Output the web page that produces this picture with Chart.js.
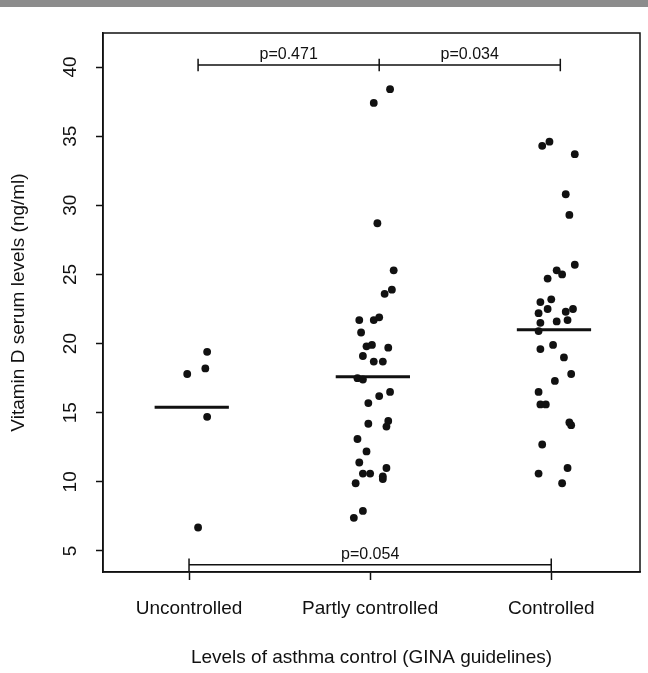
<!DOCTYPE html>
<html>
<head>
<meta charset="utf-8">
<script src="https://cdn.jsdelivr.net/npm/chart.js@4.4.1/dist/chart.umd.min.js"></script>
<style>
  html, body { margin: 0; padding: 0; background: #fff; }
</style>
</head>
<body>
<canvas id="c" width="648" height="673"></canvas>
<script>
// categories and axis ticks
var groups = ['Uncontrolled', 'Partly controlled', 'Controlled'];
var yTicks = [5, 10, 15, 20, 25, 30, 35, 40];

// jittered x positions (1 = Uncontrolled, 2 = Partly, 3 = Controlled) and values, ng/ml
var uncX = [1.10, 1.09, 0.99, 1.10, 1.05];
var uncY = [19.4, 18.2, 17.8, 14.7, 6.7];

var partX = [2.11, 2.02, 2.04, 2.13, 2.12, 2.08, 1.94, 2.02, 2.05, 1.95, 1.98, 2.01,
             2.10, 1.96, 2.02, 2.07, 1.93, 1.96, 2.11, 2.05, 1.99, 1.99, 2.10, 2.09,
             1.93, 1.98, 1.94, 1.96, 2.00, 2.09, 2.07, 2.07, 1.92, 1.91, 1.96];
var partY = [38.4, 37.4, 28.7, 25.3, 23.9, 23.6, 21.7, 21.7, 21.9, 20.8, 19.8, 19.9,
             19.7, 19.1, 18.7, 18.7, 17.5, 17.4, 16.5, 16.2, 15.7, 14.2, 14.4, 14.0,
             13.1, 12.2, 11.4, 10.6, 10.6, 11.0, 10.2, 10.4, 9.9, 7.4, 7.9];

var ctrlX = [2.95, 2.99, 3.13, 3.08, 3.10, 3.13, 3.03, 3.06, 2.98, 2.94, 3.00, 2.93,
             2.98, 3.08, 3.12, 2.94, 3.03, 3.09, 2.93, 2.94, 3.01, 3.07, 3.11, 3.02,
             2.93, 2.94, 2.97, 3.10, 3.11, 2.95, 3.09, 2.93, 3.06];
var ctrlY = [34.3, 34.6, 33.7, 30.8, 29.3, 25.7, 25.3, 25.0, 24.7, 23.0, 23.2, 22.2,
             22.5, 22.3, 22.5, 21.5, 21.6, 21.7, 20.9, 19.6, 19.9, 19.0, 17.8, 17.3,
             16.5, 15.6, 15.6, 14.3, 14.1, 12.7, 11.0, 10.6, 9.9];

var medians = [15.4, 17.6, 21.0];

// pairwise comparisons
var pLabels = ['p=0.471', 'p=0.034', 'p=0.054'];

function toPoints(xs, ys) {
  return xs.map(function (x, i) { return { x: x, y: ys[i] }; });
}

var allX = uncX.concat(partX, ctrlX);
var allY = uncY.concat(partY, ctrlY);

var medianPts = [];
medians.forEach(function (m, i) {
  medianPts.push({ x: i + 1 - 0.19, y: m }, { x: i + 1 + 0.22, y: m }, { x: i + 1, y: null });
});

var topY = 40.15, botY = 4.0, tk = 0.45;
var topBracket = [
  { x: 1.05, y: topY - tk }, { x: 1.05, y: topY + tk }, { x: 1.05, y: null },
  { x: 1.05, y: topY }, { x: 3.05, y: topY }, { x: 3.05, y: null },
  { x: 2.05, y: topY - tk }, { x: 2.05, y: topY + tk }, { x: 2.05, y: null },
  { x: 3.05, y: topY - tk }, { x: 3.05, y: topY + tk }
];
var botBracket = [
  { x: 1, y: botY - tk }, { x: 1, y: botY + tk }, { x: 1, y: null },
  { x: 1, y: botY }, { x: 3, y: botY }, { x: 3, y: null },
  { x: 3, y: botY - tk }, { x: 3, y: botY + tk }
];
var pPos = [[1.55, topY], [2.55, topY], [2.0, botY]];

var ink = '#111';
var font = "'Liberation Sans', Arial, sans-serif";

var frame = {
  id: 'frame',
  beforeDraw: function (chart) {
    var c = chart.ctx;
    c.save();
    c.fillStyle = '#8c8c8c';
    c.fillRect(0, 0, chart.width, 7);
    c.restore();
  },
  afterDraw: function (chart) {
    var c = chart.ctx, a = chart.chartArea;
    var sx = chart.scales.x, sy = chart.scales.y;
    c.save();
    c.strokeStyle = ink;
    c.lineWidth = 1.5;
    c.strokeRect(a.left, a.top, a.right - a.left, a.bottom - a.top);
    c.fillStyle = ink;
    c.font = '16px ' + font;
    c.textAlign = 'center';
    c.textBaseline = 'bottom';
    pLabels.forEach(function (t, i) {
      c.fillText(t, sx.getPixelForValue(pPos[i][0]), sy.getPixelForValue(pPos[i][1]) - 2);
    });
    c.restore();
  }
};

new Chart(document.getElementById('c'), {
  type: 'scatter',
  data: {
    datasets: [
      {
        data: toPoints(allX, allY),
        backgroundColor: ink,
        borderColor: ink,
        pointRadius: 3.9,
        pointBorderWidth: 0
      },
      {
        type: 'line',
        data: medianPts,
        borderColor: ink,
        borderWidth: 3,
        pointRadius: 0,
        spanGaps: false
      },
      {
        type: 'line',
        data: topBracket,
        borderColor: ink,
        borderWidth: 1.5,
        pointRadius: 0,
        spanGaps: false
      },
      {
        type: 'line',
        data: botBracket,
        borderColor: ink,
        borderWidth: 1.5,
        pointRadius: 0,
        spanGaps: false
      }
    ]
  },
  options: {
    responsive: false,
    animation: false,
    events: [],
    layout: { padding: { left: 0, top: 33, right: 8, bottom: 0 } },
    plugins: { legend: { display: false }, tooltip: { enabled: false } },
    scales: {
      x: {
        type: 'linear',
        min: 0.525,
        max: 3.49,
        afterBuildTicks: function (s) { s.ticks = [1, 2, 3].map(function (v) { return { value: v }; }); },
        afterFit: function (s) { s.height = 101; },
        grid: { drawOnChartArea: false, drawTicks: true, tickLength: 8, color: ink, tickWidth: 1.5 },
        border: { display: true, color: ink, width: 1.5 },
        ticks: {
          padding: 17,
          color: ink,
          font: { family: font, size: 19 },
          maxRotation: 0,
          callback: function (v) { return groups[v - 1]; }
        },
        title: {
          display: true,
          text: 'Levels of asthma control (GINA guidelines)',
          color: ink,
          font: { family: font, size: 19 },
          padding: { top: 0, bottom: 4 }
        }
      },
      y: {
        min: 3.48,
        max: 42.46,
        afterBuildTicks: function (s) { s.ticks = yTicks.map(function (v) { return { value: v }; }); },
        afterFit: function (s) { s.width = 103; },
        grid: { drawOnChartArea: false, drawTicks: true, tickLength: 7, color: ink, tickWidth: 1.5 },
        border: { display: true, color: ink, width: 1.5 },
        ticks: {
          padding: 15,
          color: ink,
          font: { family: font, size: 19 },
          minRotation: 90,
          maxRotation: 90,
          crossAlign: 'center',
          autoSkip: false
        },
        title: {
          display: true,
          text: 'Vitamin D serum levels (ng/ml)',
          color: ink,
          font: { family: font, size: 19 },
          padding: { top: 7, bottom: 0 }
        }
      }
    }
  },
  plugins: [frame]
});
</script>
</body>
</html>
